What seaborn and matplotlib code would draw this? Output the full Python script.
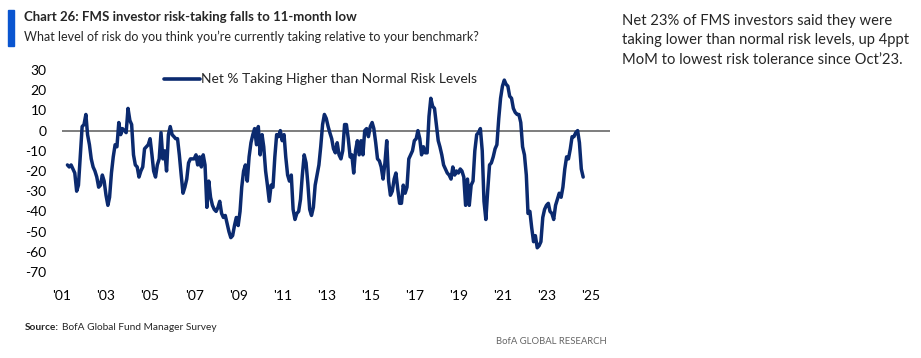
import pandas as pd
import numpy as np
import matplotlib
matplotlib.use("Agg")
import matplotlib.pyplot as plt
import seaborn as sns

sns.set_style("white")
plt.rcParams['font.family'] = ['Lato', 'DejaVu Sans']

# Monthly FMS readings, Apr 2001 - Oct 2024 (net % taking higher than normal risk)
start_month = "2001-04-01"
risk_2001_2004 = [-17, -18, -17, -19, -21, -30, -27, -12, 2, 3, 8, -2,
                  -7, -14, -18, -20, -23, -28, -27, -22, -25, -32, -37, -33,
                  -21, -13, -7, -8, 4, -2, 1, 0, -1, 11, 5, 3,
                  -12, -17, -18, -23, -20, -18, -9, -8, -7]
risk_2005_2008 = [-4, -12, -20, -23, -17, -14, -1, -14, -10, -20, -2, 2,
                  -2, -3, -4, -4, -12, -22, -31, -28, -24, -16, -14, -14,
                  -14, -12, -17, -13, -18, -12, -17, -38, -25, -33, -37, -39,
                  -40, -38, -35, -41, -43, -42, -46, -50, -53, -52, -47, -43]
risk_2009_2012 = [-47, -40, -28, -20, -17, -25, -13, -6, -2, 1, -7, 2,
                  -12, -2, -8, -20, -27, -35, -27, -28, -13, -2, -3, 0,
                  -5, -2, -13, -22, -25, -22, -39, -44, -41, -40, -34, -22,
                  -12, -16, -26, -39, -42, -38, -27, -22, -17, -8, 3, 8]
risk_2013_2016 = [6, 2, -1, -4, -9, -11, -6, -12, -14, -10, 3, 3,
                  -4, -13, -12, -21, -10, -5, -12, -5, -12, 0, 1, -3,
                  2, 4, 1, -6, -14, -15, -18, -24, -16, -5, -25, -32,
                  -30, -24, -21, -29, -36, -36, -27, -31, -28, -14, -12, -10]
risk_2017_2020 = [-5, -4, 0, -4, -12, -8, -11, -11, 7, 16, 12, 11,
                  3, -5, -8, -12, -17, -19, -21, -22, -24, -18, -22, -20,
                  -21, -19, -20, -23, -37, -24, -37, -27, -25, -10, -2, -1,
                  1, -10, -35, -44, -30, -17, -16, -13, -9, -7, 6, 16]
risk_2021_2024 = [22, 25, 23, 22, 17, 16, 11, 9, 8, 8, 4, -8,
                  -12, -22, -41, -40, -48, -55, -52, -58, -57, -55, -43, -39,
                  -37, -36, -40, -41, -44, -37, -34, -31, -33, -28, -19, -13,
                  -14, -9, -3, -3, -1, 0, -6, -19, -23]

risk_values = (risk_2001_2004 + risk_2005_2008 + risk_2009_2012
               + risk_2013_2016 + risk_2017_2020 + risk_2021_2024)
months = pd.date_range(start_month, periods=len(risk_values), freq="MS")
fms = pd.DataFrame({"Month": months,
                    "Net % Taking Higher than Normal Risk Levels": risk_values})

tick_years = list(range(2001, 2026, 2))
tick_labels = ["'" + str(y)[2:] for y in tick_years]
y_ticks = list(range(-70, 31, 10))

navy = "#0B2A6F"

# ---- Figure ---- #
fig = plt.figure(figsize=(9.21, 3.58), dpi=100)
ax = fig.add_axes([62 / 921, 1 - 272 / 358, 548 / 921, 202 / 358])

ax.axhline(0, color="#5a5a5a", linewidth=1.1, zorder=1)
sns.lineplot(data=fms, x="Month", y="Net % Taking Higher than Normal Risk Levels",
             color=navy, linewidth=2.5, ax=ax,
             label="Net % Taking Higher than Normal Risk Levels", zorder=3)

ax.set_xlim(pd.Timestamp("2001-01-01"), pd.Timestamp("2025-11-20"))
ax.set_ylim(-70, 30)
ax.set_xticks([pd.Timestamp(f"{y}-01-01") for y in tick_years])
ax.set_xticklabels(tick_labels)
ax.set_yticks(y_ticks)
ax.set_yticklabels([str(v) for v in y_ticks])
ax.tick_params(axis="x", length=0, pad=13, labelsize=10, colors="black")
ax.tick_params(axis="y", length=0, pad=11, labelsize=10, colors="black")
ax.set_xlabel("")
ax.set_ylabel("")
sns.despine(ax=ax, left=True, bottom=True)
ax.grid(False)

leg = ax.legend(loc="upper left", bbox_to_anchor=(0.163, 1.045), frameon=False,
                fontsize=10, handlelength=2.6, handletextpad=0.1)
for line in leg.get_lines():
    line.set_linewidth(2.6)

# ---- Header / notes ---- #
fig.patches.append(plt.Rectangle((8 / 921, 1 - 46 / 358), 6 / 921, 36 / 358,
                                 transform=fig.transFigure, color="#0A55D0"))
fig.text(24 / 921, 1 - 17 / 358, "Chart 26: FMS investor risk-taking falls to 11-month low",
         fontsize=9.5, fontweight="bold", va="center")
fig.text(24 / 921, 1 - 37 / 358,
         "What level of risk do you think you\u2019re currently taking relative to your benchmark?",
         fontsize=9, va="center")

fig.text(622 / 921, 1 - 40 / 358,
         "Net 23% of FMS investors said they were\ntaking lower than normal risk levels, up 4ppt\n"
         "MoM to lowest risk tolerance since Oct\u201923.",
         fontsize=10.6, va="center", linespacing=1.5)

# Source line: bold label followed by regular text
renderer = fig.canvas.get_renderer()
src_label = fig.text(25 / 921, 1 - 327 / 358, "Source:", fontsize=7.3, fontweight="bold",
                     va="center")
src_box = src_label.get_window_extent(renderer=renderer)
fig.text((src_box.x1 + 3) / 921, 1 - 327 / 358, "BofA Global Fund Manager Survey",
         fontsize=7.3, va="center")
fig.text(607 / 921, 1 - 342 / 358, "BofA GLOBAL RESEARCH", fontsize=6.8,
         color="#666666", va="center", ha="right")

fig.savefig("out.png", dpi=100)
